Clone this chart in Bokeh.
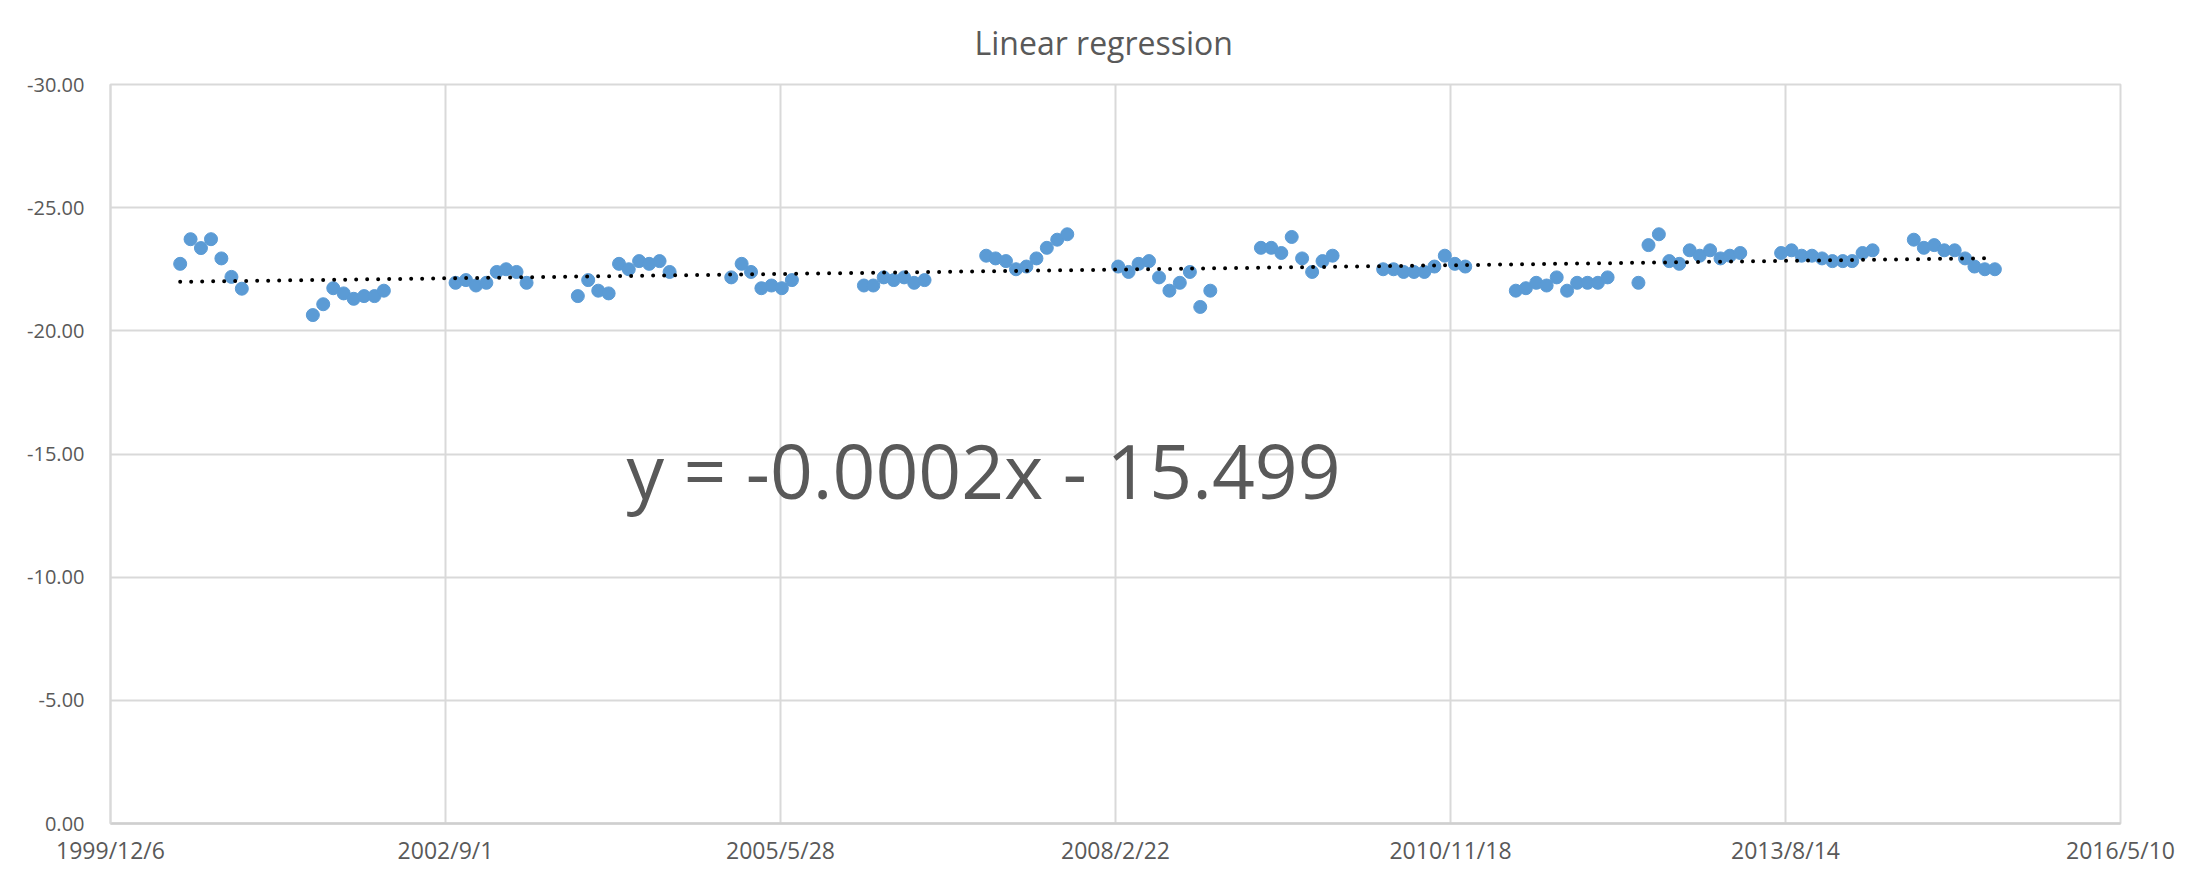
import numpy as np
import pandas as pd
from bokeh.plotting import figure
from bokeh.models import Range1d, FixedTicker, NumeralTickFormatter, CustomJSTickFormatter, Label, ColumnDataSource
from bokeh.embed import file_html
from bokeh.resources import INLINE

# ---- data ----
months = [
    "2000-07", "2000-08", "2000-09", "2000-10", "2000-11", "2000-12", "2001-01",
    "2001-08", "2001-09", "2001-10", "2001-11", "2001-12", "2002-01", "2002-02", "2002-03",
    "2002-10", "2002-11", "2002-12", "2003-01", "2003-02", "2003-03", "2003-04", "2003-05",
    "2003-10", "2003-11", "2003-12", "2004-01", "2004-02", "2004-03", "2004-04", "2004-05",
    "2004-06", "2004-07",
    "2005-01", "2005-02", "2005-03", "2005-04", "2005-05", "2005-06", "2005-07",
    "2006-02", "2006-03", "2006-04", "2006-05", "2006-06", "2006-07", "2006-08",
    "2007-02", "2007-03", "2007-04", "2007-05", "2007-06", "2007-07", "2007-08", "2007-09",
    "2007-10",
    "2008-03", "2008-04", "2008-05", "2008-06", "2008-07", "2008-08", "2008-09", "2008-10",
    "2008-11", "2008-12",
    "2009-05", "2009-06", "2009-07", "2009-08", "2009-09", "2009-10", "2009-11", "2009-12",
    "2010-05", "2010-06", "2010-07", "2010-08", "2010-09", "2010-10", "2010-11", "2010-12",
    "2011-01",
    "2011-06", "2011-07", "2011-08", "2011-09", "2011-10", "2011-11", "2011-12", "2012-01",
    "2012-02", "2012-03",
    "2012-06", "2012-07", "2012-08", "2012-09", "2012-10", "2012-11", "2012-12", "2013-01",
    "2013-02", "2013-03", "2013-04",
    "2013-08", "2013-09", "2013-10", "2013-11", "2013-12", "2014-01", "2014-02", "2014-03",
    "2014-04", "2014-05",
    "2014-09", "2014-10", "2014-11", "2014-12", "2015-01", "2015-02", "2015-03", "2015-04",
    "2015-05",
]
values = [
    -22.72, -23.72, -23.36, -23.72, -22.94, -22.19, -21.71,
    -20.64, -21.08, -21.73, -21.52, -21.30, -21.41, -21.41, -21.63,
    -21.95, -22.06, -21.84, -21.95, -22.39, -22.50, -22.39, -21.95,
    -21.41, -22.06, -21.63, -21.52, -22.72, -22.50, -22.83, -22.72,
    -22.83, -22.39,
    -22.17, -22.72, -22.39, -21.73, -21.84, -21.73, -22.06,
    -21.84, -21.84, -22.17, -22.06, -22.17, -21.95, -22.06,
    -23.05, -22.94, -22.83, -22.50, -22.61, -22.94, -23.37, -23.70,
    -23.92,
    -22.61, -22.39, -22.72, -22.83, -22.17, -21.63, -21.95, -22.39,
    -20.97, -21.63,
    -23.37, -23.37, -23.16, -23.81, -22.94, -22.39, -22.83, -23.05,
    -22.50, -22.50, -22.39, -22.39, -22.39, -22.61, -23.05, -22.72,
    -22.61,
    -21.63, -21.73, -21.95, -21.84, -22.17, -21.63, -21.95, -21.95,
    -21.95, -22.17,
    -21.95, -23.48, -23.92, -22.83, -22.72, -23.27, -23.05, -23.27,
    -22.94, -23.05, -23.16,
    -23.16, -23.27, -23.05, -23.05, -22.94, -22.83, -22.83, -22.83,
    -23.16, -23.27,
    -23.70, -23.37, -23.48, -23.27, -23.27, -22.94, -22.61, -22.50,
    -22.50,
]
x_tick_labels = ["1999/12/6", "2002/9/1", "2005/5/28", "2008/2/22",
                 "2010/11/18", "2013/8/14", "2016/5/10"]
y_ticks = [0, -5, -10, -15, -20, -25, -30]
title_text = "Linear regression"
equation_text = "y = -0.0002x - 15.499"

# ---- derived ----
def to_ms(ts):
    return ts.timestamp() * 1000.0

x_ms = np.array([to_ms(pd.Timestamp(m + "-01")) for m in months])
tick_ms = [to_ms(pd.to_datetime(t, format="%Y/%m/%d")) for t in x_tick_labels]
vals = np.array(values)

days = x_ms / 86400000.0
coef = np.polyfit(days, vals, 1)
trend_x = np.array([x_ms[0], x_ms[-1]])
trend_y = np.polyval(coef, trend_x / 86400000.0)

FONT = "Open Sans"
GRAY_TEXT = "#595959"
GRID = "#D9D9D9"

p = figure(width=2187, height=868, x_axis_type="datetime",
           output_backend="svg", toolbar_location=None,
           x_range=Range1d(tick_ms[0], tick_ms[-1]),
           y_range=Range1d(0, -30),
           min_border_left=110, min_border_right=67,
           min_border_top=84, min_border_bottom=42,
           background_fill_color="white", border_fill_color="white")

p.title.text = title_text
p.title.align = "left"
p.title.offset = 864
p.title.vertical_align = "top"
p.title.text_font = FONT
p.title.text_font_size = "32px"
p.title.text_font_style = "normal"
p.title.text_color = GRAY_TEXT
p.title.standoff = 38

p.outline_line_color = GRID
p.outline_line_width = 2

p.xaxis.ticker = FixedTicker(ticks=tick_ms)
p.xaxis.formatter = CustomJSTickFormatter(code="""
const d = new Date(tick);
return d.getUTCFullYear() + "/" + (d.getUTCMonth() + 1) + "/" + d.getUTCDate();
""")
p.yaxis.ticker = FixedTicker(ticks=y_ticks)
p.yaxis.formatter = NumeralTickFormatter(format="0.00")

for ax in (p.xaxis, p.yaxis):
    ax.major_tick_line_color = None
    ax.minor_tick_line_color = None
    ax.major_tick_out = 0
    ax.major_tick_in = 0
    ax.major_label_text_font = FONT
    ax.major_label_text_color = GRAY_TEXT
p.xaxis.major_label_text_font_size = "23px"
p.yaxis.major_label_text_font_size = "20px"
p.xaxis.axis_line_color = "#CFCFCF"
p.xaxis.axis_line_width = 2.5
p.yaxis.axis_line_color = GRID
p.yaxis.axis_line_width = 2
p.yaxis.major_label_standoff = 26
p.xaxis.major_label_standoff = 10

p.xgrid.grid_line_color = GRID
p.xgrid.grid_line_width = 2
p.ygrid.grid_line_color = GRID
p.ygrid.grid_line_width = 2

src = ColumnDataSource(dict(x=x_ms, y=vals))
p.scatter("x", "y", source=src, size=13, fill_color="#5B9BD5",
          line_color="#5B9BD5", line_width=1)

p.line(trend_x, trend_y, line_color="black", line_width=4,
       line_dash="0 11", line_cap="round")

eq = Label(x=to_ms(pd.Timestamp("2004-02-23")), y=-14.36, text=equation_text,
           text_font=FONT, text_font_size="75px", text_color=GRAY_TEXT,
           text_baseline="alphabetic", text_align="left")
p.add_layout(eq)

open("out.html", "w").write(file_html(p, INLINE))
